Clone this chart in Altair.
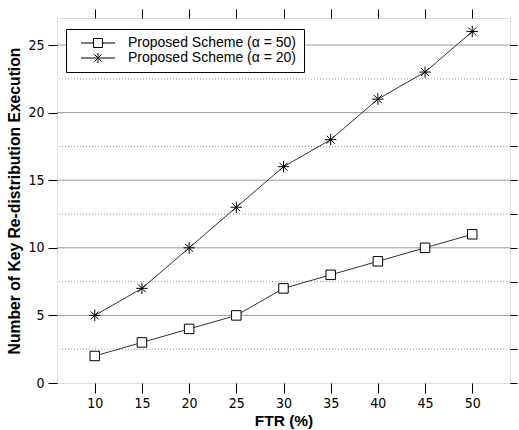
import altair as alt
import pandas as pd

ftr = [10, 15, 20, 25, 30, 35, 40, 45, 50]
alpha50 = [2, 3, 4, 5, 7, 8, 9, 10, 11]
alpha20 = [5, 7, 10, 13, 16, 18, 21, 23, 26]
series_names = ["Proposed Scheme (α = 50)", "Proposed Scheme (α = 20)"]
x_ticks = [10, 15, 20, 25, 30, 35, 40, 45, 50]
y_ticks = [0, 5, 10, 15, 20, 25]
y_minor = [0, 2.5, 5, 7.5, 10, 12.5, 15, 17.5, 20, 22.5, 25]
grid_solid = [5, 10, 15, 20, 25]
grid_dot = [2.5, 7.5, 12.5, 17.5, 22.5]

rows = []
for name, vals in zip(series_names, [alpha50, alpha20]):
    for x, v in zip(ftr, vals):
        rows.append({"ftr": x, "value": v, "series": name})
df = pd.DataFrame(rows)

FONT = "DejaVu Sans Condensed, Liberation Sans Narrow, Liberation Sans, Arial"
TFONT = "Liberation Sans, Arial"
xscale = alt.Scale(domain=[6, 54], nice=False, zero=False)
yscale = alt.Scale(domain=[0, 27], nice=False, zero=False)

square = "M-1,-1H1V1H-1Z"
star = "M-1,0H1M0,-1V1M-0.7,-0.7L0.7,0.7M-0.7,0.7L0.7,-0.7"
leg_square = "M-3.4,0H-0.9M0.9,0H3.4M-0.9,-0.9H0.9V0.9H-0.9Z"
leg_star = "M-3.4,0H3.4M0,-1V1M-0.75,-0.75L0.75,0.75M-0.75,0.75L0.75,-0.75"

solid = alt.Chart(pd.DataFrame({"v": grid_solid})).mark_rule(
    color="#9a9a9a", strokeWidth=1
).encode(y=alt.Y("v:Q", scale=yscale, axis=None))

dotted = alt.Chart(pd.DataFrame({"v": grid_dot})).mark_rule(
    color="#9a9a9a", strokeWidth=1, strokeDash=[1, 2]
).encode(y=alt.Y("v:Q", scale=yscale, axis=None))

lines = alt.Chart(df).mark_line(color="#333333", strokeWidth=1).encode(
    x=alt.X("ftr:Q", scale=xscale,
            axis=alt.Axis(values=x_ticks, title="FTR (%)", grid=False, domain=False,
                          tickSize=10, tickColor="black", labelPadding=3,
                          labelFont=FONT, labelFontSize=14, labelColor="black",
                          titleFont=TFONT, titleFontSize=15.5,
                          titleFontWeight="bold", titleColor="black", titlePadding=3)),
    y=alt.Y("value:Q", scale=yscale,
            axis=alt.Axis(values=y_ticks, title="Number of Key Re-distribution Execution",
                          grid=False, domain=False, tickSize=9, tickColor="black",
                          labelPadding=4, labelFont=FONT, labelFontSize=14,
                          labelColor="black", titleFont=TFONT,
                          titleFontSize=15.7, titleFontWeight="bold", titleColor="black",
                          titlePadding=5)),
    detail="series:N",
    order="ftr:Q",
)

points = alt.Chart(df).mark_point(
    fill="white", stroke="black", strokeWidth=1, opacity=1, filled=False
).encode(
    x=alt.X("ftr:Q", scale=xscale,
            axis=alt.Axis(orient="top", values=x_ticks, labels=False, title=None,
                          grid=False, domain=False, tickSize=9, tickColor="black")),
    y=alt.Y("value:Q", scale=yscale,
            axis=alt.Axis(orient="right", values=y_minor, labels=False, title=None,
                          grid=False, domain=False, tickSize=7, tickColor="black")),
    shape=alt.Shape("series:N", scale=alt.Scale(domain=series_names, range=[square, star]),
                    legend=None),
    size=alt.Size("series:N", scale=alt.Scale(domain=series_names, range=[90, 130]),
                  legend=None),
)

legend_layer = alt.Chart(df).mark_point(opacity=0).encode(
    x=alt.X("ftr:Q", scale=xscale, axis=None),
    y=alt.Y("value:Q", scale=yscale, axis=None),
    shape=alt.Shape(
        "series:N",
        scale=alt.Scale(domain=series_names, range=[leg_square, leg_star]),
        legend=alt.Legend(
            title=None, orient="none", legendX=9, legendY=11,
            strokeColor="black", fillColor="white", padding=7,
            symbolSize=100, symbolOffset=18, symbolOpacity=1,
            symbolStrokeColor="black", symbolFillColor="white", symbolStrokeWidth=1,
            labelOffset=23, labelFont=TFONT, labelFontSize=14, labelLimit=400,
            labelColor="black", rowPadding=1, cornerRadius=0,
        ),
    ),
)

chart = alt.layer(solid, dotted, lines, points, legend_layer).resolve_axis(
    x="independent", y="independent"
).resolve_scale(shape="independent", size="independent").properties(
    width=453, height=365,
    autosize=alt.AutoSizeParams(type="none"),
    padding={"left": 57, "top": 18, "right": 9, "bottom": 47},
).configure_view(stroke="black", strokeWidth=1).configure(background="white")

chart.save("out.html", embed_options={"renderer": "svg", "actions": False})
